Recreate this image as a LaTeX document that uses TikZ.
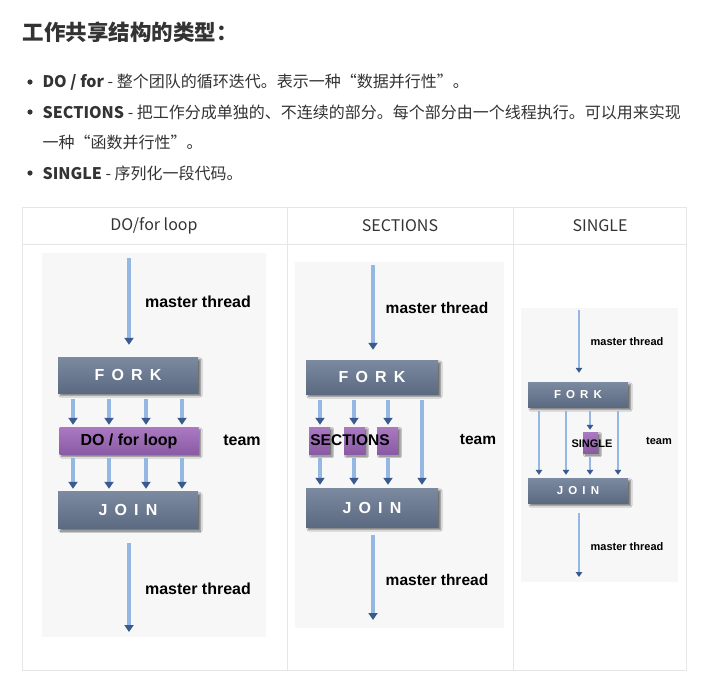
\documentclass[tikz,border=0pt]{standalone}
\usepackage{fontspec}
\newfontfamily\cjk{Noto Sans CJK SC}
\newfontfamily\arial{Liberation Sans}
\usetikzlibrary{arrows.meta,shadows.blur,positioning}
\definecolor{txt}{HTML}{333333}
\definecolor{rule}{HTML}{E6E6E6}
\definecolor{panel}{HTML}{F7F7F7}
\definecolor{slatetop}{HTML}{7C8AA0}
\definecolor{slatebot}{HTML}{5B6A81}
\definecolor{purptop}{HTML}{AA79C2}
\definecolor{purpbot}{HTML}{8A5AA4}
\definecolor{shaft}{HTML}{95B7E3}
\definecolor{tip}{HTML}{3A5A8E}
\begin{document}
\begin{tikzpicture}[x=1pt,y=-1pt,
  slab/.style={rectangle,inner sep=0pt,top color=slatetop,bottom color=slatebot,
    blur shadow={shadow xshift=2.5pt,shadow yshift=-2.5pt,shadow blur steps=6,shadow opacity=55},
    text=white,font=\arial\bfseries\fontsize{16}{16}\selectfont},
  work/.style={rectangle,inner sep=0pt,top color=purptop,bottom color=purpbot,
    blur shadow={shadow xshift=2pt,shadow yshift=-2pt,shadow blur steps=5,shadow opacity=55}},
  lbl/.style={font=\arial\bfseries\fontsize{16}{16}\selectfont},
  mid/.style={font=\arial\bfseries\fontsize{15.5}{15.5}\selectfont},
  small/.style={font=\arial\bfseries\fontsize{11}{11}\selectfont},
  flow/.style={draw=shaft,line width=3.3pt,-{Triangle[length=7pt,width=9pt,color=tip]}},
  thin flow/.style={draw=shaft,line width=2.3pt,-{Triangle[length=5pt,width=6.5pt,color=tip]}},
  body/.style={anchor=west,text=txt,font=\cjk\fontsize{16}{18}\selectfont},
  head/.style={text=txt,font=\cjk\fontsize{16}{18}\selectfont}]
\useasboundingbox[fill=white] (0,0) rectangle (704,681);
% heading and list
\node[anchor=west,text=txt,font=\cjk\bfseries\fontsize{21.5}{24}\selectfont] (title) at (19,32) {工作共享结构的类型：};
\foreach \y in {82,112,173}
  \fill[txt] (30,\y) circle (2.6pt);
\node[body] (itemA) at (39,82) {\textbf{DO / for} - 整个团队的循环迭代。表示一种“数据并行性”。};
\node[body] (itemB) at (39,112) {\textbf{SECTIONS} - 把工作分成单独的、不连续的部分。每个部分由一个线程执行。可以用来实现};
\node[body] (itemB2) at (39,142) {一种“函数并行性”。};
\node[body] (itemC) at (39,173) {\textbf{SINGLE} - 序列化一段代码。};
% table
\draw[rule] (22,207) rectangle (686,670);
\draw[rule] (22,244) -- (686,244);
\draw[rule] (287,207) -- (287,670);
\draw[rule] (513,207) -- (513,670);
\node[head] (headA) at (154,226) {DO/for loop};
\node[head] (headB) at (400,226) {SECTIONS};
\node[head] (headC) at (600,226) {SINGLE};
\fill[panel] (42,253) rectangle (266,637);
\fill[panel] (295,262) rectangle (504,628);
\fill[panel] (521,308) rectangle (678,582);
% DO/for loop
\coordinate (in1) at (129,258);
\coordinate (out1) at (129,632);
\node[slab,minimum width=140pt,minimum height=36pt] (fork1) at (128,375) {F~\,O~\,R~\,K};
\node[work,minimum width=139pt,minimum height=27pt,lbl] (do1) at (129,441) {DO / for loop};
\node[slab,minimum width=140pt,minimum height=37pt] (join1) at (128,510) {J~\,O~\,I~\,N};
\draw[flow,shorten >=12pt] (in1) -- (in1 |- fork1.north);
\foreach \x in {73,109,146,182}{
  \draw[flow,shorten <=6pt,shorten >=2.5pt] (\x,0 |- fork1.south) -- (\x,0 |- do1.north);
  \draw[flow,shorten <=3.5pt,shorten >=2.5pt] (\x,0 |- do1.south) -- (\x,0 |- join1.north);
}
\draw[flow,shorten <=14pt] (out1 |- join1.south) -- (out1);
\node[lbl] (mt1a) at (198,302) {master thread};
\node[lbl] (team1) at (242,440) {team};
\node[lbl] (mt1b) at (198,589) {master thread};
% SECTIONS
\coordinate (in2) at (373,265);
\coordinate (out2) at (373,620);
\node[slab,minimum width=132pt,minimum height=34pt] (fork2) at (372,377) {F~\,O~\,R~\,K};
\foreach \n/\x in {1/319.5,2/354.5,3/387.5}
  \node[work,minimum width=21pt,minimum height=27pt] (sec\n) at (\x,440.5) {};
\node[slab,minimum width=132pt,minimum height=39pt] (join2) at (372,507.5) {J~\,O~\,I~\,N};
\node[mid] (secs) at (350,440) {SECTIONS};
\draw[flow,shorten >=10pt] (in2) -- (in2 |- fork2.north);
\foreach \n/\x in {1/320,2/354,3/388}{
  \draw[flow,shorten <=6pt,shorten >=2pt] (\x,0 |- fork2.south) -- (\x,0 |- sec\n.north);
  \draw[flow,shorten <=4pt,shorten >=3pt] (\x,0 |- sec\n.south) -- (\x,0 |- join2.north);
}
\draw[flow,shorten <=6pt,shorten >=3pt] (422,0 |- fork2.south) -- (422,0 |- join2.north);
\draw[flow,shorten <=8pt] (out2 |- join2.south) -- (out2);
\node[mid] (mt2a) at (437,308) {master thread};
\node[mid] (team2) at (478,440) {team};
\node[mid] (mt2b) at (437,580) {master thread};
% SINGLE
\coordinate (in3) at (579,310);
\coordinate (out3) at (579,577);
\node[slab,minimum width=100pt,minimum height=25pt,font=\arial\bfseries\fontsize{11.5}{11.5}\selectfont] (fork3) at (578,394.5) {F~\,O~\,R~\,K};
\node[work,minimum width=15pt,minimum height=21pt] (single3) at (590.5,442.5) {};
\node[slab,minimum width=100pt,minimum height=25pt,font=\arial\bfseries\fontsize{11.5}{11.5}\selectfont] (join3) at (578,490.5) {J~\,O~\,I~\,N};
\node[small] (single) at (592,444) {SINGLE};
\draw[thin flow,shorten >=9pt] (in3) -- (in3 |- fork3.north);
\foreach \x in {539,566,618}
  \draw[thin flow,shorten <=4pt,shorten >=3pt] (\x,0 |- fork3.south) -- (\x,0 |- join3.north);
\draw[thin flow,shorten <=4pt,shorten >=2pt] (590,0 |- fork3.south) -- (590,0 |- single3.north);
\draw[thin flow,shorten <=4pt,shorten >=3pt] (590,0 |- single3.south) -- (590,0 |- join3.north);
\draw[thin flow,shorten <=10pt] (out3 |- join3.south) -- (out3);
\node[small] (mt3a) at (627,342) {master thread};
\node[small] (team3) at (659,441) {team};
\node[small] (mt3b) at (627,547) {master thread};
\end{tikzpicture}
\end{document}
